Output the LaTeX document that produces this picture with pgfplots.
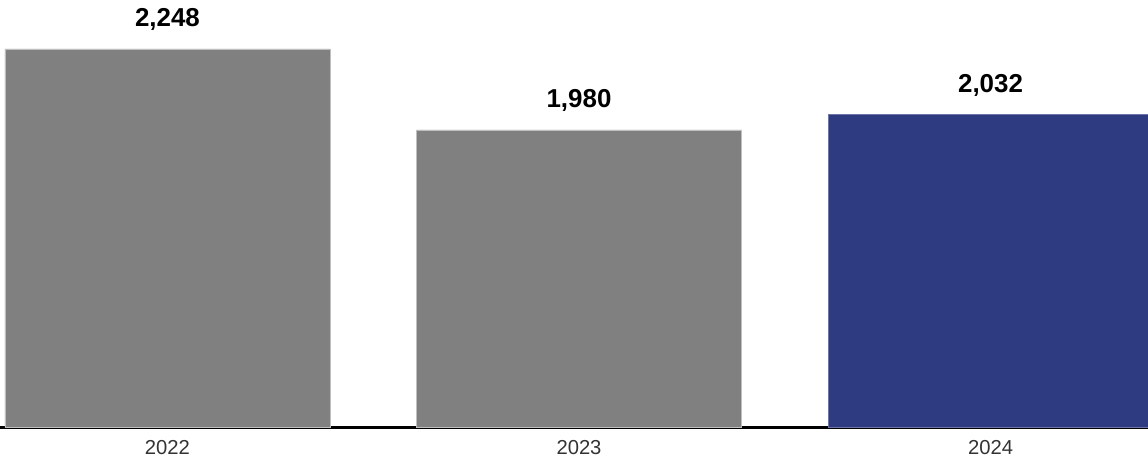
\documentclass[border=0pt]{standalone}
\usepackage{fontspec}
\setmainfont{Liberation Sans}
\usepackage{pgfplots}
\pgfplotsset{compat=1.18}

\definecolor{bargray}{HTML}{808080}
\definecolor{barblue}{HTML}{2E3B80}

\begin{document}
\begin{tikzpicture}
\begin{axis}[
    scale only axis,
    x=411.5bp, y=0.3022bp,
    xmin=-0.407, xmax=2.3827,
    ymin=995, ymax=2410,
    ybar, bar shift=0pt, bar width=325bp,
    axis x line*=bottom,
    hide y axis,
    x axis line style={line width=2.8bp, black},
    major tick length=0pt,
    xtick={0,1,2},
    xticklabels={2022,2023,2024},
    xticklabel style={font=\fontsize{20.3}{24}\selectfont, text=black!80, anchor=base, yshift=-27bp},
    nodes near coords,
    point meta=explicit symbolic,
    every node near coord/.append style={font=\bfseries\fontsize{26}{30}\selectfont, anchor=base, yshift=22bp, text=black},
]
\addplot[fill=bargray, draw=black!25, line width=0.8bp] coordinates {(0,2248) [2,248] (1,1980) [1,980]};
\addplot[fill=barblue, draw=barblue!70!white, line width=0.8bp] coordinates {(2,2032) [2,032]};
\end{axis}
\pgfresetboundingbox
\path (current axis.south west) ++(0,-33.4bp) rectangle (current axis.north east);
\end{tikzpicture}
\end{document}
